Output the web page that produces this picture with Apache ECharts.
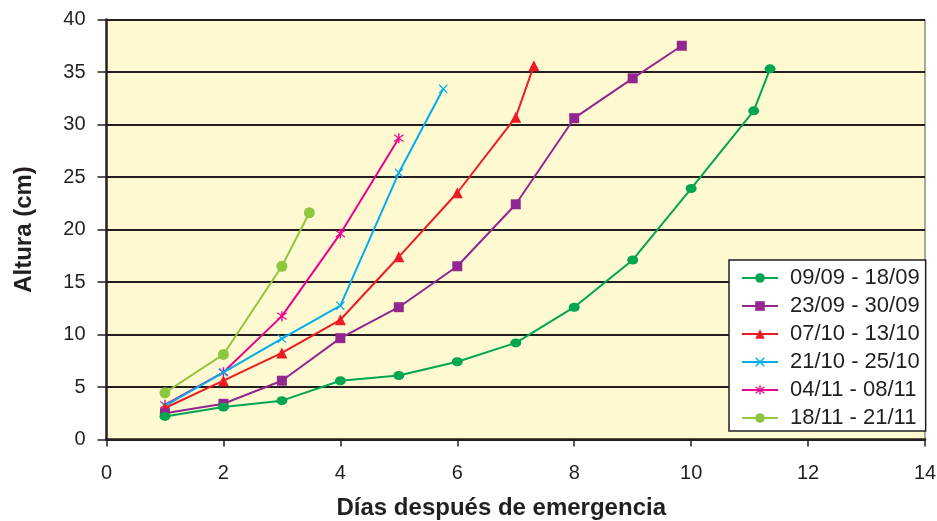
<!DOCTYPE html>
<html>
<head>
<meta charset="utf-8">
<script src="https://cdn.jsdelivr.net/npm/echarts@6/dist/echarts.min.js"></script>
<style>html,body{margin:0;padding:0;background:#fff;}#c{width:937px;height:521px;}</style>
</head>
<body>
<div id="c"></div>
<script>
const seriesNames = ['09/09 - 18/09','23/09 - 30/09','07/10 - 13/10','21/10 - 25/10','04/11 - 08/11','18/11 - 21/11'];
const xTicks = [0,2,4,6,8,10,12,14];
const yTicks = [0,5,10,15,20,25,30,35,40];

const days1 = [1,2,3,4,5,6,7,8,9,10,11.07,11.35];
const alt1  = [2.2,3.1,3.7,5.6,6.1,7.4,9.2,12.6,17.1,23.9,31.3,35.3];
const days2 = [1,2,3,4,5,6,7,8,9,9.84];
const alt2  = [2.5,3.4,5.6,9.65,12.6,16.5,22.4,30.6,34.4,37.5];
const days3 = [1,2,3,4,5,6,7,7.31];
const alt3  = [3.0,5.6,8.25,11.4,17.4,23.5,30.7,35.6];
const days4 = [1,2,3,4,5,5.76];
const alt4  = [3.2,6.4,9.6,12.75,25.4,33.4];
const days5 = [1,2,3,4,5];
const alt5  = [3.3,6.4,11.75,19.6,28.7];
const days6 = [1,2,3,3.47];
const alt6  = [4.45,8.1,16.5,21.6];

const colors = ['#00A651','#92278F','#ED1C24','#00AEEF','#EC008C','#8DC63F'];
const xPath = 'path://M0,1 L1,0 L5,4 L9,0 L10,1 L6,5 L10,9 L9,10 L5,6 L1,10 L0,9 L4,5 Z';
const starPath = 'path://M4.4,0 L5.6,0 L5.6,10 L4.4,10 Z M0.6,2.2 L1.2,1.2 L9.4,7.8 L8.8,8.8 Z M8.8,1.2 L9.4,2.2 L1.2,8.8 L0.6,7.8 Z';
const symbols = ['circle','rect','triangle',xPath,starPath,'circle'];
const sizes = [[11,9],10,11,9,10,11];

const xs = [days1,days2,days3,days4,days5,days6];
const ys = [alt1,alt2,alt3,alt4,alt5,alt6];

const series = seriesNames.map((n,i)=>({
  name:n, type:'line',
  data: xs[i].map((d,k)=>[d, ys[i][k]]),
  symbol: symbols[i], symbolSize: sizes[i], showSymbol:true,
  lineStyle:{color:colors[i], width:2},
  itemStyle:{color:colors[i]},
  z: 10 - i
}));

const chart = echarts.init(document.getElementById('c'));
chart.setOption({
  animation:false,
  grid:{left:106.5, right:12, top:19.5, bottom:81.5, outerBoundsMode:'none', containLabel:false,
    show:true, backgroundColor:'#FFF9D1', borderColor:'#555', borderWidth:1},
  xAxis:{type:'value', min:xTicks[0], max:xTicks[xTicks.length-1], interval:2,
    name:'Días después de emergencia', nameLocation:'middle', nameGap:57,
    nameTextStyle:{fontFamily:'Liberation Sans', fontSize:24, fontWeight:'bold', color:'#231f20', padding:[0,29,0,0]},
    axisLine:{lineStyle:{color:'#231f20', width:2.5}},
    axisTick:{show:true, length:7, lineStyle:{color:'#231f20', width:1.5}},
    axisLabel:{fontFamily:'Liberation Sans', fontSize:20, color:'#231f20', margin:24},
    splitLine:{show:false}},
  yAxis:{type:'value', min:yTicks[0], max:yTicks[yTicks.length-1], interval:5,
    name:'Altura (cm)', nameLocation:'middle', nameGap:70,
    nameTextStyle:{fontFamily:'Liberation Sans', fontSize:24, fontWeight:'bold', color:'#231f20'},
    axisLine:{show:true, lineStyle:{color:'#231f20', width:2.5}},
    axisTick:{show:true, length:9, lineStyle:{color:'#231f20', width:1.5}},
    axisLabel:{fontFamily:'Liberation Sans', fontSize:20, color:'#231f20', margin:21},
    splitLine:{show:true, lineStyle:{color:'#231f20', width:1.8}}},
  legend:{orient:'vertical', left:729, top:260,
    backgroundColor:'#ffffff', borderColor:'#231f20', borderWidth:1.5,
    padding:[7,6,2,12], itemGap:6, itemWidth:36, itemHeight:12,
    textStyle:{fontFamily:'Liberation Sans', fontSize:22, lineHeight:22, color:'#231f20', padding:[0,0,0,7]},
    data: seriesNames},
  series: series
});
</script>
</body>
</html>
